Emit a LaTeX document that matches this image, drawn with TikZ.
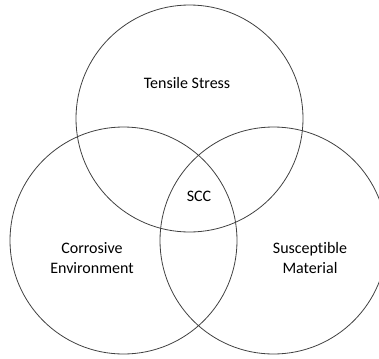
\documentclass[tikz,border=0pt]{standalone}
\usepackage{fontspec}
\setmainfont[Ligatures=NoCommon]{Carlito}
\usepackage{tikz}
\usetikzlibrary{positioning}

\begin{document}
\begin{tikzpicture}[x=0.75pt,y=-0.75pt,
  venn/.style={draw=black!75,line width=0.6pt,circle,minimum size=170.25pt,inner sep=0pt,outer sep=0pt},
  lbl/.style={font=\fontsize{12}{15}\selectfont,align=center,text=black}]
\useasboundingbox (0,0) rectangle (379,358);
% the three overlapping sets
\node[venn] (stress) at (189.5,118.5) {};
\node[venn] (env) at (123.5,240.5) {};
\node[venn] (mat) at (273.5,240.5) {};
% labels
\node[lbl] (stresslbl) at (187,83) {Tensile Stress};
\node[lbl] (scc) at (199,196) {SCC};
\node[lbl] (envlbl) at (92,258) {Corrosive\\Environment};
\node[lbl] (matlbl) at (310,258) {Susceptible\\Material};
\end{tikzpicture}
\end{document}
